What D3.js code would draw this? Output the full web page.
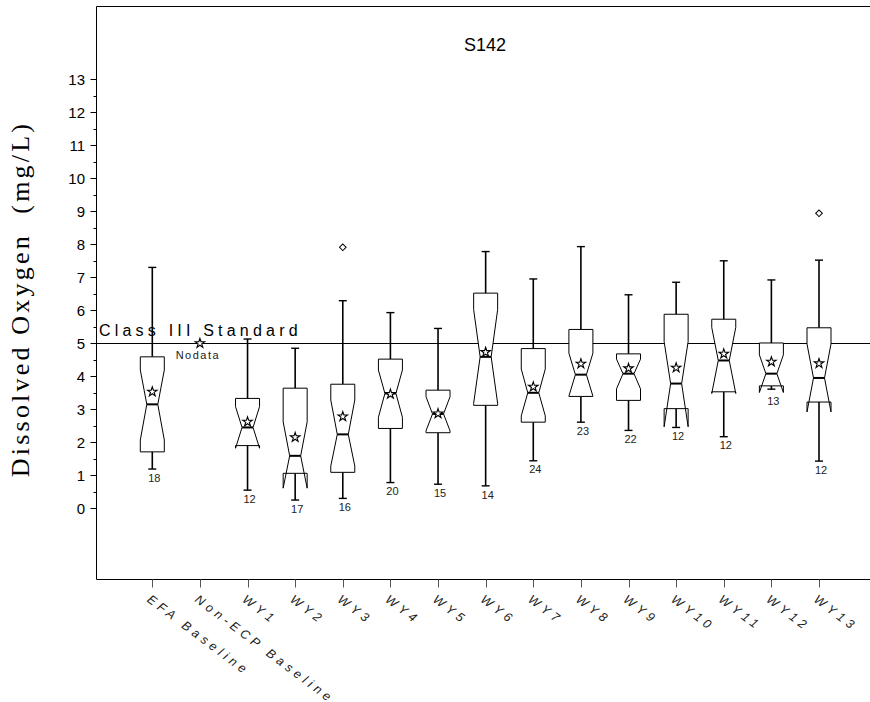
<!DOCTYPE html>
<meta charset="utf-8">
<body style="margin:0;background:#fff">
<script src="https://d3js.org/d3.v7.min.js"></script>
<script>
var width = 870,
    height = 702;

// values (mg/L)
var categories = ["EFA Baseline", "Non-ECP Baseline", "WY1", "WY2", "WY3", "WY4", "WY5",
                  "WY6", "WY7", "WY8", "WY9", "WY10", "WY11", "WY12", "WY13"];
var whiskerHigh = [7.30, null, 5.13, 4.85, 6.29, 5.93, 5.45, 7.78, 6.95, 7.93, 6.47, 6.85, 7.50, 6.92, 7.52];
var q3          = [4.59, null, 3.33, 3.64, 3.76, 4.52, 3.58, 6.52, 4.84, 5.42, 4.68, 5.88, 5.73, 5.01, 5.47];
var notchHigh   = [4.19, null, 3.08, 2.62, 3.28, 4.19, 3.38, 6.02, 4.22, 4.70, 4.52, 5.05, 5.48, 4.65, 4.98];
var medians     = [3.15, null, 2.45, 1.59, 2.24, 3.48, 2.86, 4.59, 3.50, 4.05, 4.08, 3.78, 4.48, 4.08, 3.95];
var notchLow    = [2.07, null, 1.82, 0.61, 1.28, 2.76, 2.35, 3.18, 2.80, 3.40, 3.62, 2.47, 3.48, 3.51, 2.92];
var q1          = [1.71, null, 1.90, 1.06, 1.09, 2.42, 2.29, 3.12, 2.61, 3.39, 3.27, 3.02, 3.53, 3.71, 3.22];
var whiskerLow  = [1.19, null, 0.55, 0.25, 0.30, 0.78, 0.73, 0.68, 1.44, 2.61, 2.36, 2.45, 2.17, 3.61, 1.43];
var means       = [3.53, 5.00, 2.62, 2.15, 2.78, 3.46, 2.87, 4.73, 3.68, 4.38, 4.24, 4.26, 4.68, 4.44, 4.39];
var counts      = [18, null, 12, 17, 16, 20, 15, 14, 24, 23, 22, 12, 12, 13, 12];
var outliers    = [[], [], [], [], [7.91], [], [], [], [], [], [], [], [], [], [8.94]];

var yTicks = d3.range(0, 14, 1);
var yMinorTicks = d3.range(0, 13.01, 0.5);
var standardValue = 5;

var frame = {left: 96.5, top: 6.5, bottom: 579.5};

var svg = d3.select("body").append("svg")
    .attr("width", width)
    .attr("height", height)
    .style("display", "block")
    .style("overflow", "hidden");

var y = d3.scaleLinear().domain([0, 13]).range([508.3, 79.3]);
var x = d3.scalePoint().domain(categories).range([152.3, 819]);

// frame: only top, left and bottom sides, the right one is off the page
svg.append("line").attr("x1", frame.left).attr("x2", width)
    .attr("y1", frame.top).attr("y2", frame.top).attr("stroke", "#000");
svg.append("line").attr("x1", frame.left).attr("x2", frame.left)
    .attr("y1", frame.top).attr("y2", frame.bottom).attr("stroke", "#000");
svg.append("line").attr("x1", frame.left).attr("x2", width)
    .attr("y1", frame.bottom).attr("y2", frame.bottom).attr("stroke", "#000");

// title
svg.append("text")
    .attr("x", 485).attr("y", 51)
    .attr("text-anchor", "middle")
    .style("font-family", "Arial, 'Liberation Sans', sans-serif")
    .style("font-size", "18px")
    .text("S142");

// y axis ticks
svg.selectAll(".minor").data(yMinorTicks).enter().append("line")
    .attr("x1", frame.left - 3).attr("x2", frame.left)
    .attr("y1", d => Math.round(y(d)) + 0.5).attr("y2", d => Math.round(y(d)) + 0.5)
    .attr("stroke", "#000");
svg.selectAll(".major").data(yTicks).enter().append("line")
    .attr("x1", frame.left - 6).attr("x2", frame.left)
    .attr("y1", d => Math.round(y(d)) + 0.5).attr("y2", d => Math.round(y(d)) + 0.5)
    .attr("stroke", "#000");
svg.selectAll(".ylab").data(yTicks).enter().append("text")
    .attr("x", 85).attr("y", d => y(d))
    .attr("dy", "0.36em")
    .attr("text-anchor", "end")
    .style("font-family", "Arial, 'Liberation Sans', sans-serif")
    .style("font-size", "15px")
    .text(d => d);

svg.append("text")
    .attr("transform", "translate(29,299) rotate(-90)")
    .attr("text-anchor", "middle")
    .style("font-family", "'Times New Roman', 'Liberation Serif', serif")
    .style("font-size", "26px")
    .style("letter-spacing", "3.2px")
    .style("white-space", "pre")
    .text("Dissolved Oxygen  (mg/L)");

// x axis ticks and rotated labels
svg.selectAll(".xtick").data(categories).enter().append("line")
    .attr("x1", d => Math.round(x(d)) + 0.5).attr("x2", d => Math.round(x(d)) + 0.5)
    .attr("y1", frame.bottom).attr("y2", frame.bottom + 8)
    .attr("stroke", "#555");
svg.selectAll(".xlab").data(categories).enter().append("text")
    .attr("transform", d => "translate(" + (x(d) - 6) + ",601) rotate(37)")
    .style("font-family", "Arial, 'Liberation Sans', sans-serif")
    .style("font-size", "12.5px")
    .style("font-style", "italic")
    .style("letter-spacing", "4.2px")
    .attr("fill", "#222")
    .text(d => d);

// class III standard
svg.append("line")
    .attr("x1", frame.left).attr("x2", width)
    .attr("y1", Math.round(y(standardValue)) + 0.5).attr("y2", Math.round(y(standardValue)) + 0.5)
    .attr("stroke", "#000");
svg.append("text")
    .attr("x", 99).attr("y", y(standardValue) - 7)
    .style("font-family", "Arial, 'Liberation Sans', sans-serif")
    .style("font-size", "16px")
    .style("letter-spacing", "4.2px")
    .text("Class III Standard");

// boxes
var boxes = categories.map((c, i) => ({
  cat: c, hi: whiskerHigh[i], q3: q3[i], nhi: notchHigh[i], med: medians[i],
  nlo: notchLow[i], q1: q1[i], lo: whiskerLow[i], mean: means[i], n: counts[i], out: outliers[i]
}));

var half = 12, waist = 5.5, cap = 4;
var g = svg.append("g");

boxes.forEach(function(b) {
  var cx = x(b.cat);
  if (b.n == null) {
    g.append("path")
      .attr("d", d3.symbol().type(d3.symbolStar).size(28)())
      .attr("transform", "translate(" + cx + "," + y(b.mean) + ")")
      .attr("fill", "#fff").attr("stroke", "#000").attr("stroke-width", 1.1);
    g.append("text")
      .attr("x", cx - 2).attr("y", y(b.mean) + 16)
      .attr("text-anchor", "middle")
      .style("font-family", "Arial, 'Liberation Sans', sans-serif")
      .style("font-size", "11px")
      .style("letter-spacing", "1.5px")
      .attr("fill", "#222")
      .text("Nodata");
    return;
  }
  // whiskers
  g.append("line").attr("x1", cx).attr("x2", cx).attr("y1", y(b.q3)).attr("y2", y(b.hi))
    .attr("stroke", "#000").attr("stroke-width", 1.6);
  g.append("line").attr("x1", cx).attr("x2", cx).attr("y1", y(b.q1)).attr("y2", y(b.lo))
    .attr("stroke", "#000").attr("stroke-width", 1.6);
  [b.hi, b.lo].forEach(v => {
    g.append("line").attr("x1", cx - cap).attr("x2", cx + cap).attr("y1", y(v)).attr("y2", y(v))
      .attr("stroke", "#000").attr("stroke-width", 1.4);
  });
  // notched box
  var pts = [
    [cx - half, y(b.q3)], [cx - half, y(b.nhi)], [cx - waist, y(b.med)], [cx - half, y(b.nlo)],
    [cx - half, y(b.q1)], [cx + half, y(b.q1)], [cx + half, y(b.nlo)], [cx + waist, y(b.med)],
    [cx + half, y(b.nhi)], [cx + half, y(b.q3)]
  ];
  g.append("path")
    .attr("d", d3.line()(pts) + "Z")
    .attr("fill", "#fff").attr("stroke", "#000").attr("stroke-width", 1);
  // median
  g.append("line").attr("x1", cx - waist).attr("x2", cx + waist)
    .attr("y1", y(b.med)).attr("y2", y(b.med))
    .attr("stroke", "#000").attr("stroke-width", 2);
  // mean
  g.append("path")
    .attr("d", d3.symbol().type(d3.symbolStar).size(28)())
    .attr("transform", "translate(" + cx + "," + y(b.mean) + ")")
    .attr("fill", "#fff").attr("stroke", "#000").attr("stroke-width", 1.1);
  // outliers
  b.out.forEach(v => {
    g.append("path")
      .attr("d", d3.symbol().type(d3.symbolSquare).size(22)())
      .attr("transform", "translate(" + cx + "," + y(v) + ") rotate(45)")
      .attr("fill", "#fff").attr("stroke", "#000").attr("stroke-width", 1);
  });
  // count label
  var bottom = Math.max(y(b.lo), y(b.nlo), y(b.q1));
  g.append("text")
    .attr("x", cx + 2).attr("y", bottom + 12.7)
    .attr("text-anchor", "middle")
    .style("font-family", "Arial, 'Liberation Sans', sans-serif")
    .style("font-size", "11px")
    .attr("fill", "#222")
    .text(b.n);
});
</script>
</body>
